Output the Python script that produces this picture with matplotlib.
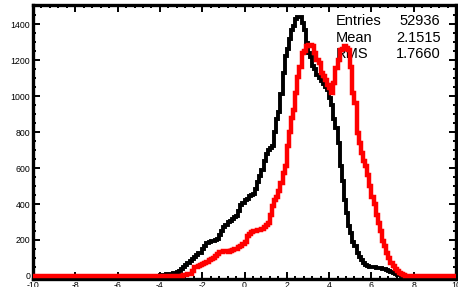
import numpy as np
import matplotlib
matplotlib.use("Agg")
import matplotlib.pyplot as plt
from matplotlib.ticker import MultipleLocator

plt.rcParams['font.family'] = ['Liberation Sans', 'DejaVu Sans']
plt.rcParams['axes.unicode_minus'] = False

# binning of the histograms: 200 bins over [-10, 10]
x_min, x_max, n_bins = -10.0, 10.0, 200

# black histogram, bins starting at x = -4.0
black_start = -4.0
black_counts = [
    4, 6, 8, 9, 11, 12, 15, 18, 21, 30,
    39, 52, 62, 70, 85, 92, 108, 118, 125, 130,
    150, 165, 182, 190, 193, 195, 198, 205, 225, 250,
    272, 285, 298, 306, 318, 328, 334, 360, 395, 408,
    420, 428, 445, 450, 458, 485, 520, 555, 590, 640,
    680, 700, 712, 722, 800, 870, 910, 1010, 1130, 1225,
    1260, 1320, 1370, 1390, 1430, 1440, 1442, 1405, 1368, 1294,
    1240, 1215, 1170, 1150, 1115, 1100, 1082, 1070, 1050, 1035,
    990, 950, 870, 820, 740, 610, 530, 420, 350, 280,
    240, 190, 165, 130, 105, 88, 72, 62, 56, 52,
    50, 48, 46, 44, 42, 40, 39, 34, 28, 20,
    14, 9, 5, 3,
]

# red histogram, bins starting at x = -3.0
red_start = -3.0
red_counts = [
    2, 4, 6, 9, 11, 25, 48, 52, 58, 62,
    66, 72, 80, 88, 94, 100, 110, 122, 131, 133,
    136, 138, 135, 140, 144, 148, 150, 160, 168, 180,
    187, 220, 232, 242, 248, 252, 256, 258, 262, 272,
    285, 297, 340, 389, 420, 440, 470, 519, 574, 611,
    720, 800, 880, 925, 1017, 1109, 1160, 1239, 1250, 1276,
    1285, 1286, 1276, 1239, 1200, 1183, 1130, 1110, 1091, 1060,
    1045, 1017, 1072, 1156, 1202, 1257, 1262, 1276, 1270, 1257,
    1160, 1017, 960, 796, 740, 685, 640, 611, 560, 500,
    440, 400, 340, 297, 250, 196, 165, 130, 100, 70,
    57, 40, 28, 18, 11, 5,
]

stats_labels = ["Entries", "Mean", "RMS"]
stats_values = ["52936", "2.1515", "1.7660"]


def full_hist(start, counts):
    edges = np.linspace(x_min, x_max, n_bins + 1)
    vals = np.zeros(n_bins)
    i0 = int(round((start - x_min) / (x_max - x_min) * n_bins))
    vals[i0:i0 + len(counts)] = counts
    return edges, vals


W, H = 458, 287
fig = plt.figure(figsize=(W / 100, H / 100), dpi=100)
ax = fig.add_axes([33 / W, (H - 279) / H, (456 - 33) / W, (279 - 5.3) / H])

edges, vals = full_hist(black_start, black_counts)
ax.stairs(vals, edges, color='black', linewidth=2.8, zorder=4, clip_on=False)
edges, vals = full_hist(red_start, red_counts)
ax.stairs(vals, edges, color='#ff0000', linewidth=3.2, zorder=5, clip_on=False)

ax.set_xlim(x_min, x_max)
ax.set_ylim(-17, 1505)

# ROOT-like frame and ticks
for s in ax.spines.values():
    s.set_linewidth(2.4)
ax.xaxis.set_major_locator(MultipleLocator(2))
ax.xaxis.set_minor_locator(MultipleLocator(0.4))
ax.yaxis.set_major_locator(MultipleLocator(200))
ax.yaxis.set_minor_locator(MultipleLocator(50))
ax.tick_params(which='both', direction='in', top=True, right=True,
               labelsize=6.3, width=1.4)
ax.tick_params(which='major', length=5)
ax.tick_params(which='minor', length=2.5)
ax.tick_params(axis='x', pad=1.5)
ax.tick_params(axis='y', pad=2)

# stats box text
for k, (lab, val) in enumerate(zip(stats_labels, stats_values)):
    y = 21 + k * 16.7
    ax.text(336 / W, 1 - y / H, lab, transform=fig.transFigure,
            fontsize=10.5, ha='left', va='center', zorder=1)
    ax.text(440.5 / W, 1 - y / H, val, transform=fig.transFigure,
            fontsize=10.5, ha='right', va='center', zorder=1)

fig.savefig("out.png", dpi=100)
